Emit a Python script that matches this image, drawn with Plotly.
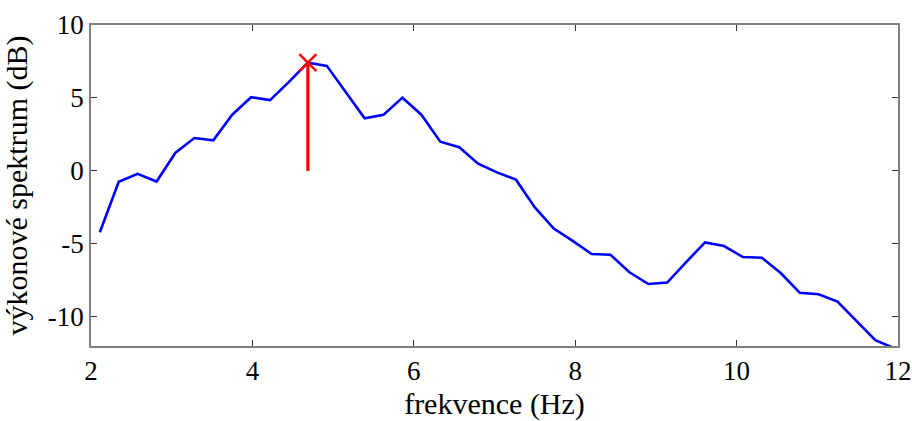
import plotly.graph_objects as go

df = 0.234375
k_start = 9
spectrum_db = [-4.2, -0.75, -0.2, -0.73, 1.25, 2.25, 2.1, 3.85, 5.05, 4.85,
               6.1, 7.42, 7.2, 5.4, 3.6, 3.85, 5.02, 3.85, 2.0, 1.62,
               0.5, -0.1, -0.6, -2.5, -3.95, -4.8, -5.7, -5.75, -6.95, -7.75,
               -7.65, -6.25, -4.9, -5.15, -5.9, -5.95, -7.0, -8.35, -8.45, -8.95,
               -10.3, -11.6, -12.15]
freq = [(k_start + i) * df for i in range(len(spectrum_db))]

x_ticks = [2, 4, 6, 8, 10, 12]
y_ticks = [-10, -5, 0, 5, 10]
y_tick_text = ["-10", "-5", "0", "5", "10"]

peak_i = max(range(len(spectrum_db)), key=lambda i: spectrum_db[i])
peak_f = freq[peak_i]
peak_v = spectrum_db[peak_i]

fig = go.Figure()
fig.add_trace(go.Scatter(x=freq, y=spectrum_db, mode="lines",
                         line=dict(color="#0000ff", width=2.6), showlegend=False))
fig.add_trace(go.Scatter(x=[peak_f, peak_f], y=[0, peak_v], mode="lines",
                         line=dict(color="#ff0000", width=3.2), showlegend=False))
fig.add_trace(go.Scatter(x=[peak_f], y=[peak_v], mode="markers",
                         marker=dict(symbol="x-thin", size=17,
                                     line=dict(color="#ff0000", width=2.4)),
                         showlegend=False))

fam = "Liberation Serif, Times New Roman, serif"
tick_font = dict(family=fam, size=27, color="black")
title_font = dict(family=fam, size=30, color="black")
axis_common = dict(showline=True, linecolor="#808080", linewidth=1.5, mirror="ticks",
                   ticks="inside", ticklen=6, tickcolor="#333333", showgrid=False,
                   zeroline=False, tickfont=tick_font, automargin=False)
fig.update_xaxes(range=[2, 12], tickvals=x_ticks,
                 title=dict(text="frekvence (Hz)", font=title_font), **axis_common)
fig.update_yaxes(range=[-12, 10], tickvals=y_ticks, ticktext=y_tick_text,
                 title=dict(text="výkonové spektrum (dB)", font=title_font), **axis_common)
fig.update_layout(width=912, height=421, margin=dict(l=91, r=14, t=25, b=75),
                  plot_bgcolor="white", paper_bgcolor="white", font=tick_font)
fig.write_html("out.html")
